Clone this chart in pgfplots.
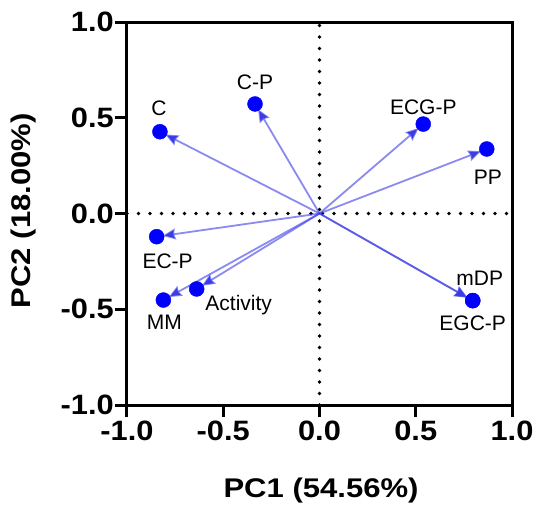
\documentclass[border=0pt]{standalone}
\usepackage{pgfplots}
\pgfplotsset{compat=1.18}
\usepackage{pgfplotstable}
\usepackage{fontspec}
\setmainfont{Liberation Sans}
\usetikzlibrary{arrows.meta}
\definecolor{arrowcol}{RGB}{60,60,230}
\definecolor{ptblue}{RGB}{0,0,255}

\pgfplotstableread{
x y dx dy label
-0.829 0.427 -1 23 C
-0.335 0.572 0 22 C-P
0.539 0.467 0 17 ECG-P
0.869 0.337 1 -28 PP
-0.846 -0.121 11 -25 EC-P
-0.638 -0.394 42 -16 Activity
-0.811 -0.452 1 -22 MM
0.796 -0.455 7 22 mDP
0.796 -0.455 0 -23 EGC-P
}\pcadata

\begin{document}
\begin{tikzpicture}
\begin{axis}[
  at={(0,0)}, anchor=south west,
  scale only axis, width=385pt, height=383pt,
  xmin=-1, xmax=1, ymin=-1, ymax=1,
  xtick={-1,-0.5,0,0.5,1}, ytick={-1,-0.5,0,0.5,1},
  xtick pos=left, ytick pos=left,
  tick align=outside,
  major tick length=12pt,
  every tick/.style={black, line width=3pt},
  axis line style={black, line width=3pt},
  /pgf/number format/assume math mode=true,
  xticklabel={\scalebox{1.1}[1]{\pgfmathprintnumber[fixed,fixed zerofill,precision=1]{\tick}}},
  yticklabel={\scalebox{1.1}[1]{\pgfmathprintnumber[fixed,fixed zerofill,precision=1]{\tick}}},
  ticklabel style={font=\bfseries\fontsize{28}{28}\selectfont},
  yticklabel style={inner xsep=1pt},
  xlabel={\scalebox{1.15}[1]{PC1 (54.56\%)}},
  ylabel={\scalebox{1.15}[1]{PC2 (18.00\%)}},
  label style={font=\bfseries\fontsize{27}{27}\selectfont},
  xlabel style={at={(axis description cs:0.504,-0.222)}, anchor=center},
  ylabel style={at={(axis description cs:-0.2675,0.507)}, anchor=center},
  clip=false,
]
\addplot[black, line width=3.6pt, line cap=round, dash pattern=on 0pt off 11.5pt, forget plot] coordinates {(0,-1) (0,1)};
\addplot[black, line width=3.6pt, line cap=round, dash pattern=on 0pt off 11.5pt, forget plot] coordinates {(-1,0) (1,0)};
\addplot[arrowcol, draw opacity=0.6, line width=1.8pt,
  quiver={u=\thisrow{x}, v=\thisrow{y},
    every arrow/.append style={-{Stealth[length=13pt,width=11pt,inset=1.5pt]}, shorten >=6pt}},
  ] table[x expr=0, y expr=0] {\pcadata};
\addplot[only marks, mark=*, mark size=7.5pt, ptblue, mark options={draw=ptblue, fill=ptblue},
  point meta=explicit symbolic,
  visualization depends on={\thisrow{dx} \as \dx},
  visualization depends on={\thisrow{dy} \as \dy},
  nodes near coords,
  nodes near coords style={black, font=\fontsize{21}{21}\selectfont, anchor=center, xshift=\dx pt, yshift=\dy pt, inner sep=0pt},
  ] table[x=x, y=y, meta=label] {\pcadata};
\end{axis}
\pgfresetboundingbox
\useasboundingbox (-127pt,-99pt) rectangle (407pt,405pt);
\end{tikzpicture}
\end{document}
